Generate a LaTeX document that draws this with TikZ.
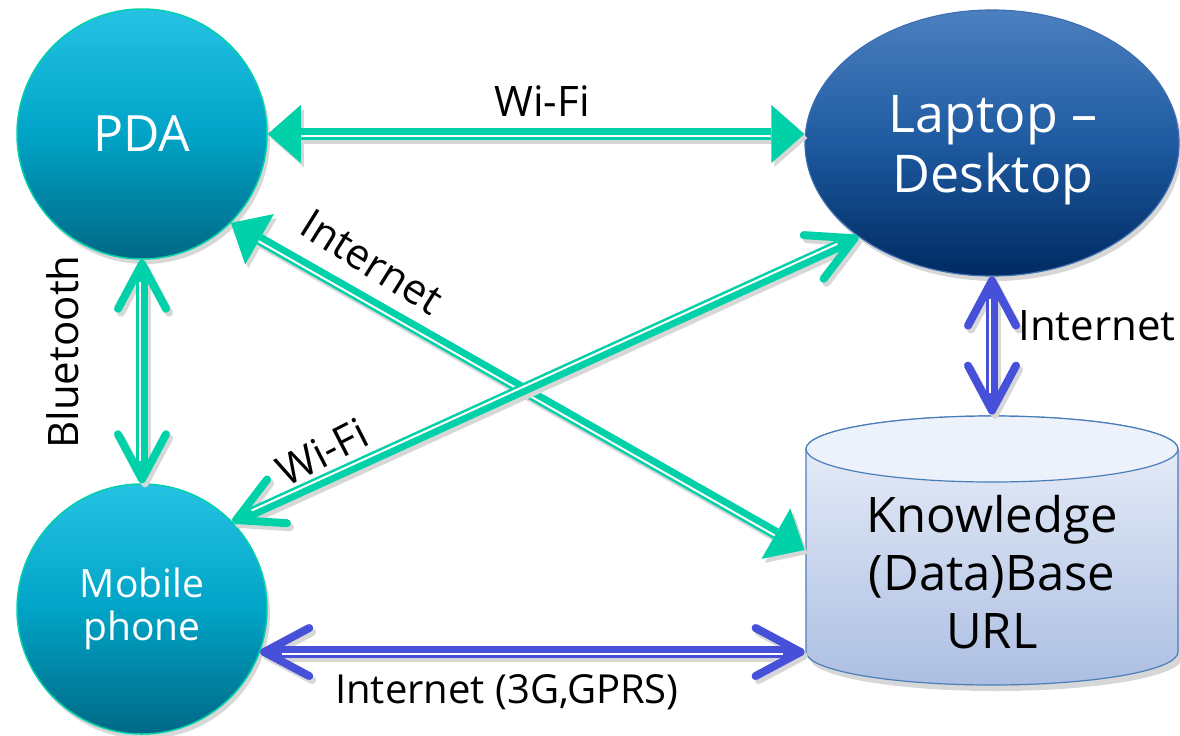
\documentclass[tikz,border=0pt]{standalone}
\usepackage{fontspec}
\setmainfont{Open Sans}
\usetikzlibrary{arrows.meta,calc,shapes.geometric,shadows}
\definecolor{grn}{RGB}{0,209,168}
\definecolor{blu}{RGB}{70,80,217}
\definecolor{cyanT}{RGB}{38,194,228}
\definecolor{cyanM}{RGB}{0,164,198}
\definecolor{cyanB}{RGB}{0,104,134}
\definecolor{lapT}{RGB}{76,128,192}
\definecolor{lapM}{RGB}{30,90,160}
\definecolor{lapB}{RGB}{0,42,98}
\definecolor{lapL}{RGB}{60,110,175}
\definecolor{kbT}{RGB}{236,241,250}
\definecolor{kbB}{RGB}{172,190,226}
\definecolor{kbL}{RGB}{74,126,187}
\definecolor{shd}{RGB}{215,215,215}
\newcommand\dlink[5]{%
  \draw[link, draw=shd, #2, transform canvas={shift={(1.5pt,-2pt)}}] (#3) -- (#4);
  \draw[link, draw=#1, #2] (#3) -- (#4);
  \draw[gapline, shorten <=#5, shorten >=#5] ($(#3)!1.1pt!-90:(#4)$) -- ($(#4)!1.1pt!90:(#3)$);
}
\begin{document}
\begin{tikzpicture}[x=0.5pt,y=-0.5pt,
  dev/.style={circle, minimum size=125pt, inner sep=0pt, draw=grn, line width=0.75pt,
    top color=cyanT, bottom color=cyanB, middle color=cyanM, text=white, align=center,
    drop shadow={shadow xshift=1.5pt, shadow yshift=-2.5pt, fill=shd, opacity=1}},
  lap/.style={ellipse, minimum width=187pt, minimum height=133pt, inner sep=0pt, draw=lapL, line width=0.6pt,
    top color=lapT, bottom color=lapB, middle color=lapM,
    drop shadow={shadow xshift=1.5pt, shadow yshift=-2.5pt, fill=shd, opacity=1}},
  laptext/.style={text=white, align=center, inner sep=0pt, font=\fontsize{26}{30}\selectfont},
  frame/.style={rectangle, minimum width=187pt, minimum height=135pt, inner sep=0pt},
  kbtext/.style={align=center, font=\fontsize{24.5}{29}\selectfont, inner sep=0pt},
  lab/.style={font=\fontsize{21}{25}\selectfont, inner sep=0pt},
  link/.style={line width=5.75pt},
  gapline/.style={draw=white, line width=1pt},
  tri/.style={arrows={Triangle[length=16.5pt,width=29pt,line width=0pt]-Triangle[length=16.5pt,width=29pt,line width=0pt]}},
  barb/.style={arrows={Straight Barb[length=22.5pt,width=24pt,line width=4pt,round]-Straight Barb[length=22.5pt,width=24pt,line width=4pt,round]}},
]
\useasboundingbox (0,0) rectangle (1180,735);
% knowledge base cylinder
\fill[shd] (810,455) -- (810,658) arc[start angle=180,end angle=0,x radius=186,y radius=33]
  -- (1182,455) arc[start angle=0,end angle=-180,x radius=186,y radius=33] -- cycle;
\shadedraw[top color=kbT, bottom color=kbB, draw=kbL, line width=0.6pt] (806,449) -- (806,652)
  arc[start angle=180,end angle=0,x radius=186,y radius=33] -- (1178,449)
  arc[start angle=0,end angle=-180,x radius=186,y radius=33] -- cycle;
\draw[kbL, line width=0.6pt, fill=kbT] (992,449) ellipse[x radius=186, y radius=33];
\node[frame] (kb) at (992,550) {};
\node[kbtext] (kbt) at (992,572) {Knowledge\\(Data)Base\\URL};
% devices
\node[dev, font=\fontsize{25}{30}\selectfont] (pda) at (142,134) {PDA};
\node[dev, font=\fontsize{19.5}{21.5}\selectfont] (mob) at (142,609) {Mobile\\phone};
\node[lap] (lapt) at (992,143) {};
\node[laptext] (laptt) at (993,150) {Laptop –\\Desktop};
\coordinate (wifiR) at (pda.east -| lapt.west);
\coordinate (kbL) at (mob.-20 -| kb.west);
% connectors
\dlink{grn}{tri}{pda.east}{wifiR}{16.5pt}
\dlink{grn}{barb}{pda.south}{mob.north}{11pt}
\dlink{grn}{tri}{pda.-45}{kb.west}{16.5pt}
\dlink{grn}{barb}{lapt.215}{mob.44}{11pt}
\dlink{blu}{barb}{lapt.south}{kb.north}{11pt}
\dlink{blu}{barb}{mob.-20}{kbL}{11pt}
% labels
\node[lab] (l1) at (542,101) {Wi-Fi};
\node[lab, rotate=90] (l2) at (63,352) {Bluetooth};
\node[lab, rotate=-32] (l3) at (372,262) {Internet};
\node[lab, rotate=27] (l4) at (322,452) {Wi-Fi};
\node[lab] (l5) at (1097,326) {Internet};
\node[lab, font=\fontsize{20}{24}\selectfont] (l6) at (507,692) {Internet (3G,GPRS)};
\end{tikzpicture}
\end{document}
